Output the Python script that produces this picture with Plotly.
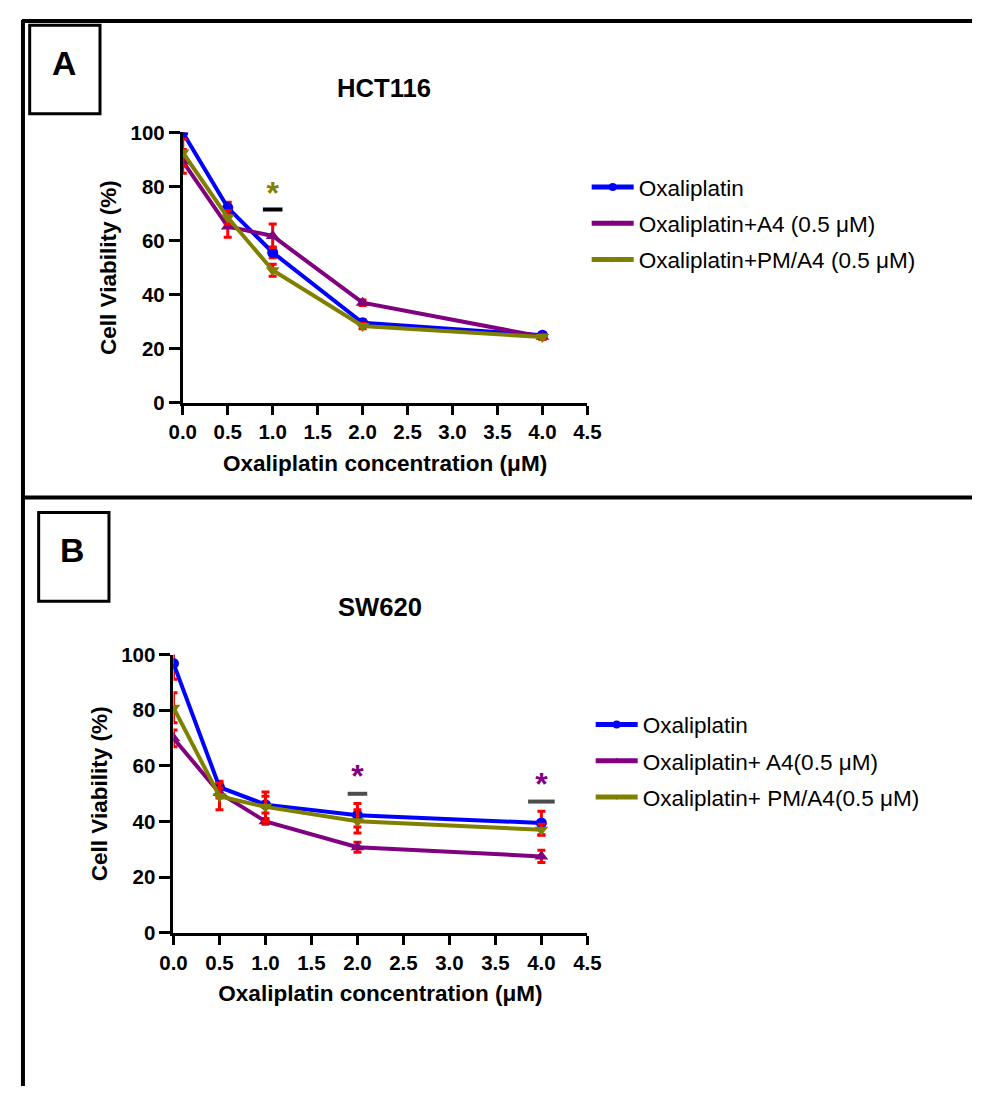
import plotly.graph_objects as go

# page geometry: body margin offset, figure size, and photo mapping (ref px -> page px)
OFF = 8
W, H = 986 - OFF, 1097 - OFF
SX, BX = 0.974, 11.0
SY, BY = 0.978, 11.5
FS = 1 / 0.976

conc = [0.0, 0.5, 1.0, 2.0, 4.0]

# Panel A - HCT116
a_oxa = [100.0, 72.2, 55.6, 29.6, 25.0]
a_oxa_err = [0.0, 2.0, 2.0, 1.0, 0.8]
a_a4 = [89.3, 65.2, 61.7, 37.0, 24.4]
a_a4_err = [4.4, 4.0, 4.4, 1.0, 0.8]
a_pm = [92.6, 68.5, 49.0, 28.4, 24.3]
a_pm_err = [5.0, 2.5, 2.2, 1.0, 0.8]

# Panel B - SW620
b_oxa = [96.8, 52.4, 46.1, 42.3, 39.5]
b_oxa_err = [5.7, 2.1, 3.0, 4.2, 4.2]
b_a4 = [69.9, 50.3, 40.1, 30.8, 27.5]
b_a4_err = [3.0, 1.8, 1.0, 1.8, 2.2]
b_pm = [80.9, 49.1, 45.3, 40.1, 37.1]
b_pm_err = [5.4, 4.8, 5.3, 4.2, 2.0]

# significance marks
sigA_x = [1.0]
sigA_star_y = [76.5]
sigA_bar_y = [71.5]
sigB_x = [2.0, 4.0]
sigB_star_y = [55.3, 52.3]
sigB_bar_y = [50.0, 47.2]

names_A = ["Oxaliplatin", "Oxaliplatin+A4 (0.5 μM)", "Oxaliplatin+PM/A4 (0.5 μM)"]
names_B = ["Oxaliplatin", "Oxaliplatin+ A4(0.5 μM)", "Oxaliplatin+ PM/A4(0.5 μM)"]
x_ticks = [0.0, 0.5, 1.0, 1.5, 2.0, 2.5, 3.0, 3.5, 4.0, 4.5]
y_ticks = [0, 20, 40, 60, 80, 100]

BLUE, PURPLE, OLIVE, RED = "#0000FF", "#800080", "#808000", "#FF0000"
FONT = "Liberation Sans, Arial, sans-serif"

fig = go.Figure()

def add_series(y, err, name, color, symbol, msize, lsize, xa, ya, legend, group):
    fig.add_trace(go.Scatter(
        x=conc, y=y, name=name, mode="lines+markers", showlegend=False,
        line=dict(color=color, width=4),
        marker=dict(color=color, symbol=symbol, size=msize),
        error_y=dict(type="data", array=err, color=RED, thickness=3, width=4),
        xaxis=xa, yaxis=ya, legendgroup=group,
    ))
    # legend entry with the small legend glyph
    fig.add_trace(go.Scatter(
        x=[None], y=[None], name=name, mode="lines+markers",
        line=dict(color=color, width=5),
        marker=dict(color=color, symbol=symbol, size=lsize),
        xaxis=xa, yaxis=ya, legend=legend, legendgroup=group,
    ))

add_series(a_oxa, a_oxa_err, names_A[0], BLUE, "circle", 11, 8, "x", "y", "legend", "a1")
add_series(a_a4, a_a4_err, names_A[1], PURPLE, "triangle-up", 12, 6, "x", "y", "legend", "a2")
add_series(a_pm, a_pm_err, names_A[2], OLIVE, "triangle-down", 12, 6, "x", "y", "legend", "a3")
add_series(b_oxa, b_oxa_err, names_B[0], BLUE, "circle", 11, 8, "x2", "y2", "legend2", "b1")
add_series(b_a4, b_a4_err, names_B[1], PURPLE, "triangle-up", 12, 6, "x2", "y2", "legend2", "b2")
add_series(b_pm, b_pm_err, names_B[2], OLIVE, "triangle-down", 12, 6, "x2", "y2", "legend2", "b3")

# significance: bars and asterisks
fig.add_trace(go.Scatter(x=sigA_x, y=sigA_bar_y, mode="markers", showlegend=False,
                         marker=dict(symbol="line-ew-open", size=14, color="black",
                                     line=dict(color="black", width=4)),
                         xaxis="x", yaxis="y", cliponaxis=False))
fig.add_trace(go.Scatter(x=sigA_x, y=sigA_star_y, mode="text", text=["*"] * len(sigA_x), showlegend=False,
                         textfont=dict(family=FONT, size=32, color=OLIVE, weight="bold"),
                         textposition="middle center", xaxis="x", yaxis="y", cliponaxis=False))
fig.add_trace(go.Scatter(x=sigB_x, y=sigB_bar_y, mode="markers", showlegend=False,
                         marker=dict(symbol="line-ew-open", size=[14, 19], color="black",
                                     line=dict(color="black", width=4)),
                         xaxis="x2", yaxis="y2", cliponaxis=False))
fig.add_trace(go.Scatter(x=sigB_x, y=sigB_star_y, mode="text", text=["*"] * len(sigB_x), showlegend=False,
                         textfont=dict(family=FONT, size=32, color=PURPLE, weight="bold"),
                         textposition="middle center", xaxis="x2", yaxis="y2", cliponaxis=False))

def px_x(v):
    return ((v - BX) / SX - OFF) / W

def px_y(v):
    return 1 - ((v - BY) / SY - OFF) / H

tickfont = dict(family=FONT, size=20 * FS, color="black", weight="bold")
xtitlefont = dict(family=FONT, size=22 * FS, color="black", weight="bold")
ytitlefont = dict(family=FONT, size=22 * FS, color="black", weight="bold")

def xaxis(domain, anchor):
    return dict(domain=domain, anchor=anchor, range=[0, 4.5], tickvals=x_ticks,
                ticktext=[f"{v:.1f}" for v in x_ticks], showgrid=False, zeroline=False,
                showline=True, linecolor="black", linewidth=3, ticks="outside", ticklen=9,
                tickwidth=3, tickcolor="black", tickfont=tickfont,
                title=dict(text="Oxaliplatin concentration (μM)", font=xtitlefont, standoff=13))

def yaxis(domain, anchor):
    return dict(domain=domain, anchor=anchor, range=[0, 100], tickvals=y_ticks,
                showgrid=False, zeroline=False, showline=True, linecolor="black", linewidth=3,
                ticks="outside", ticklen=11, tickwidth=3, tickcolor="black", tickfont=tickfont,
                title=dict(text="Cell Viability (%)", font=ytitlefont, standoff=8))

legend_common = dict(font=dict(family=FONT, size=22 * FS, color="black"), bgcolor="rgba(0,0,0,0)",
                     traceorder="grouped", tracegroupgap=4, itemwidth=42,
                     xanchor="left", yanchor="top")

fig.update_layout(
    width=W, height=H, margin=dict(l=0, r=0, t=0, b=0),
    paper_bgcolor="white", plot_bgcolor="white",
    xaxis=xaxis([px_x(180), px_x(585.7)], "y"),
    yaxis=yaxis([px_y(401.7), px_y(131.7)], "x"),
    xaxis2=xaxis([px_x(170.7), px_x(585.7)], "y2"),
    yaxis2=yaxis([px_y(931.5), px_y(653.3)], "x2"),
    legend=dict(x=px_x(585), y=px_y(165), **legend_common),
    legend2=dict(x=px_x(589), y=px_y(702), **legend_common),
)

# frame lines
frame = dict(color="black", width=4)
fig.add_shape(type="line", xref="paper", yref="paper", x0=0, x1=1.0, y0=1 - 1 / H, y1=1 - 1 / H, line=frame)
fig.add_shape(type="line", xref="paper", yref="paper", x0=1 / W, x1=1 / W, y0=1, y1=0, line=frame)
fig.add_shape(type="line", xref="paper", yref="paper", x0=0, x1=1.0, y0=px_y(496.5), y1=px_y(496.5), line=frame)

# panel label boxes
box = dict(color="black", width=3)
fig.add_shape(type="rect", xref="paper", yref="paper", x0=px_x(26.5), x1=px_x(97), y0=px_y(113), y1=px_y(24.5), line=box)
fig.add_shape(type="rect", xref="paper", yref="paper", x0=px_x(35.5), x1=px_x(106), y0=px_y(600), y1=px_y(511.5), line=box)

bigfont = dict(family=FONT, size=33 * FS, color="black", weight="bold")
fig.add_annotation(text="A", xref="paper", yref="paper", x=px_x(61), y=px_y(62), showarrow=False,
                   font=bigfont, xanchor="center", yanchor="middle")
fig.add_annotation(text="B", xref="paper", yref="paper", x=px_x(69), y=px_y(549), showarrow=False,
                   font=bigfont, xanchor="center", yanchor="middle")

tfont = dict(family=FONT, size=25 * FS, color="black", weight="bold")
fig.add_annotation(text="HCT116", xref="paper", yref="paper", x=px_x(382), y=px_y(87), showarrow=False,
                   font=tfont, xanchor="center", yanchor="middle")
fig.add_annotation(text="SW620", xref="paper", yref="paper", x=px_x(377.5), y=px_y(606), showarrow=False,
                   font=tfont, xanchor="center", yanchor="middle")

fig.write_html("out.html")
